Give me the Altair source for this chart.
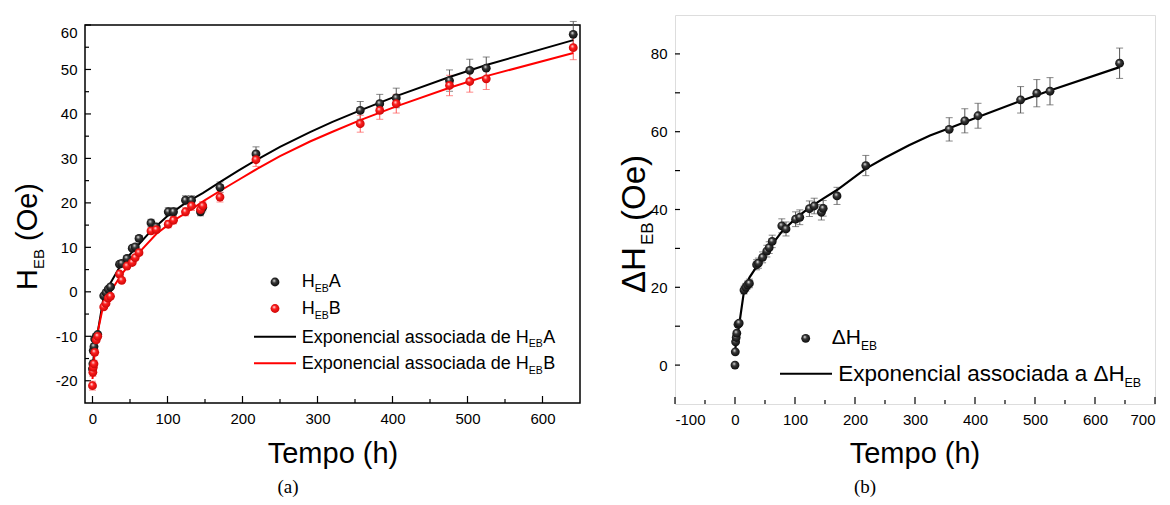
import altair as alt
import pandas as pd

# ---------------- data ----------------
time_h = [0, 0.5, 1, 2, 3, 5, 7, 15, 18, 21, 24, 36, 39, 46, 53, 57, 62, 78, 85,
          101, 108, 124, 132, 144, 147, 170, 218, 357, 383, 405, 476, 503, 525, 641]
heb_a = [-17.3, -16.2, -13.2, -12.3, -10.6, -10.0, -9.6, -0.9, -0.2, 0.6, 1.1, 6.2, 6.4,
         7.5, 9.8, 10.1, 12.0, 15.5, 14.6, 18.0, 18.0, 20.6, 20.6, 18.0, 19.0, 23.5,
         31.0, 40.8, 42.3, 43.6, 47.5, 49.8, 50.3, 57.9]
err_a = [0.9, 0.8, 0.7, 0.6, 0.5, 0.5, 0.5, 0.3, 0.3, 0.3, 0.3, 0.3, 0.3, 0.4, 0.5,
         0.5, 0.6, 0.8, 0.7, 0.9, 0.9, 1.0, 1.0, 0.9, 1.0, 1.2, 1.6, 2.0, 2.1, 2.2,
         2.4, 2.5, 2.5, 2.9]
heb_b = [-21.1, -18.1, -17.0, -16.2, -13.6, -10.8, -10.0, -3.4, -2.6, -1.4, -1.0, 4.0,
         2.6, 5.8, 6.6, 7.7, 8.8, 13.7, 14.0, 15.2, 16.1, 18.0, 19.3, 18.5, 19.3, 21.3,
         29.7, 37.8, 40.8, 42.3, 46.4, 47.3, 47.9, 54.9]
err_b = [1.0, 0.9, 0.8, 0.8, 0.7, 0.5, 0.5, 0.3, 0.3, 0.3, 0.3, 0.3, 0.3, 0.4, 0.4,
         0.5, 0.5, 0.7, 0.7, 0.8, 0.8, 0.9, 1.0, 0.9, 1.0, 1.1, 1.5, 1.9, 2.0, 2.1,
         2.3, 2.4, 2.4, 2.7]
delta_heb = [0.0, 3.4, 6.0, 7.1, 8.2, 10.5, 10.8, 19.3, 20.0, 20.6, 21.0, 25.8, 26.2,
             27.7, 29.3, 30.2, 31.8, 35.8, 35.0, 37.5, 38.0, 40.2, 40.9, 39.3, 40.3,
             43.5, 51.3, 60.6, 62.8, 64.1, 68.2, 69.9, 70.4, 77.6]
err_delta = [0.0, 0.2, 0.3, 0.4, 0.4, 0.5, 0.5, 1.0, 1.0, 1.0, 1.1, 1.3, 1.3, 1.4, 1.5,
             1.5, 1.6, 1.8, 1.8, 1.9, 1.9, 2.0, 2.0, 2.0, 2.0, 2.2, 2.6, 3.0, 3.1, 3.2,
             3.4, 3.5, 3.5, 3.9]

fit_a_t = [0, 2, 5, 7, 15, 24, 36, 46, 57, 78, 101, 124, 147, 172, 195, 220, 250, 290,
           320, 357, 405, 476, 525, 641]
fit_a_v = [-17.0, -14.0, -10.5, -9.0, -1.0, 2.0, 5.5, 7.6, 9.8, 13.7, 17.2, 20.0, 22.2,
           24.9, 27.3, 29.8, 32.6, 35.9, 38.2, 40.8, 44.0, 48.3, 51.0, 56.6]
fit_b_t = [0, 3, 7, 15, 24, 39, 48, 62, 85, 108, 127, 150, 172, 195, 220, 250, 290, 320,
           357, 405, 476, 525, 641]
fit_b_v = [-19.6, -13.5, -9.0, -2.5, 0.0, 4.0, 5.9, 8.8, 13.0, 16.0, 18.0, 20.6, 22.9,
           25.2, 27.7, 30.5, 33.8, 36.0, 38.6, 41.7, 45.9, 48.5, 53.7]
fit_d_t = [0, 7, 15, 24, 36, 46, 57, 78, 101, 124, 147, 170, 218, 250, 290, 325, 357,
           405, 476, 525, 641]
fit_d_v = [3.8, 10.4, 19.0, 22.5, 25.3, 27.6, 30.0, 34.3, 37.7, 40.5, 42.8, 45.0, 50.5,
           53.3, 56.5, 59.0, 60.9, 63.8, 67.9, 70.6, 76.6]

left_x_major = [0, 100, 200, 300, 400, 500, 600]
left_x_minor = [50, 150, 250, 350, 450, 550]
left_y_major = [-20, -10, 0, 10, 20, 30, 40, 50, 60]
left_y_minor = [-15, -5, 5, 15, 25, 35, 45, 55]
right_x_major = [-100, 0, 100, 200, 300, 400, 500, 600, 700]
right_x_minor = [-50, 50, 150, 250, 350, 450, 550, 650]
right_y_major = [0, 20, 40, 60, 80]
right_y_minor = [10, 30, 50, 70]

# ---------------- helpers ----------------
FONT = "Liberation Sans"
dummy = pd.DataFrame({"k": [0]})


def sphere(mid, dark):
    return alt.RadialGradient(
        gradient="radial",
        stops=[alt.GradientStop(offset=0, color="#ffffff"),
               alt.GradientStop(offset=0.35, color=mid),
               alt.GradientStop(offset=1, color=dark)],
        x1=0.38, y1=0.32, r1=0.0, x2=0.5, y2=0.5, r2=0.6)


BLACK_BALL = sphere("#3a3a3a", "#000000")
RED_BALL = sphere("#ff2020", "#c00000")


def make_axis(values, flush=True):
    return alt.Axis(values=values, title=None, ticks=False, domain=False, grid=False,
                    labelPadding=8, labelFontSize=15, labelFont=FONT, labelColor="black",
                    labelExpr="'' + datum.value", labelFlush=flush)


class Frame:
    def __init__(self, xs, ys, ax, ay):
        self.xs, self.ys, self.ax, self.ay = xs, ys, ax, ay

    def X(self, f):
        return alt.X(f, scale=self.xs, axis=self.ax)

    def Y(self, f):
        return alt.Y(f, scale=self.ys, axis=self.ay)


def label(text, x, y, size, angle=0, align="left", font=FONT):
    return alt.Chart(dummy).mark_text(
        text=text, fontSize=size, font=font, align=align, baseline="middle",
        angle=angle, color="black"
    ).encode(x=alt.value(x), y=alt.value(y))


def ticks(values, fr, orient, H, length):
    df = pd.DataFrame({"v": values})
    base = alt.Chart(df).mark_rule(color="black", strokeWidth=1.2)
    if orient == "x":
        return base.encode(x=fr.X("v:Q"), y=alt.value(H), y2=alt.value(H - length))
    return base.encode(y=fr.Y("v:Q"), x=alt.value(0), x2=alt.value(length))


def errbars(df, col, ecol, fr, color):
    base = alt.Chart(df).transform_calculate(
        lo=f"datum['{col}'] - datum['{ecol}']", hi=f"datum['{col}'] + datum['{ecol}']")
    rule = base.mark_rule(color=color, strokeWidth=1).encode(
        x=fr.X("t:Q"), y=fr.Y("lo:Q"), y2="hi:Q")
    cap_lo = base.mark_tick(orient="horizontal", size=7, thickness=1, color=color).encode(
        x=fr.X("t:Q"), y=fr.Y("lo:Q"))
    cap_hi = base.mark_tick(orient="horizontal", size=7, thickness=1, color=color).encode(
        x=fr.X("t:Q"), y=fr.Y("hi:Q"))
    return [rule, cap_lo, cap_hi]


def balls(df, col, fr, grad):
    return alt.Chart(df).mark_point(filled=True, shape="circle", size=78, fill=grad,
                                    strokeWidth=0, opacity=1).encode(
        x=fr.X("t:Q"), y=fr.Y(f"{col}:Q"))


def fitline(t, v, fr, color, width=2):
    d = pd.DataFrame({"t": t, "v": v})
    return alt.Chart(d).mark_line(color=color, strokeWidth=width).encode(
        x=fr.X("t:Q"), y=fr.Y("v:Q"), order="t:Q")


def legend_ball(x, y, grad):
    return alt.Chart(dummy).mark_point(filled=True, shape="circle", size=78, fill=grad,
                                       strokeWidth=0, opacity=1).encode(
        x=alt.value(x), y=alt.value(y))


def legend_line(x1, x2, y, color):
    return alt.Chart(dummy).mark_rule(color=color, strokeWidth=2).encode(
        x=alt.value(x1), x2=alt.value(x2), y=alt.value(y))


# ---------------- left panel ----------------
W1, H1, TOP1 = 495, 388, 10
fr1 = Frame(alt.Scale(domain=[-10, 650], nice=False, zero=False),
            alt.Scale(domain=[-25, 60], nice=False, zero=False, range=[H1, TOP1]),
            make_axis(left_x_major, flush=False), make_axis(left_y_major))
df1 = pd.DataFrame({"t": time_h, "A": heb_a, "eA": err_a, "B": heb_b, "eB": err_b})

left_layers = [
    alt.Chart(dummy).mark_rect(fillOpacity=0, stroke="black", strokeWidth=1.5).encode(
        x=alt.value(0), x2=alt.value(W1), y=alt.value(TOP1), y2=alt.value(H1)),
    ticks(left_x_major, fr1, "x", H1, 7),
    ticks(left_x_minor, fr1, "x", H1, 4),
    ticks(left_y_major, fr1, "y", H1, 6),
    ticks(left_y_minor, fr1, "y", H1, 4)]
left_layers += errbars(df1, "A", "eA", fr1, "#555555")
left_layers += errbars(df1, "B", "eB", fr1, "#ff5a5a")
left_layers += [fitline(fit_a_t, fit_a_v, fr1, "black"),
                fitline(fit_b_t, fit_b_v, fr1, "#ff0000"),
                balls(df1, "A", fr1, BLACK_BALL),
                balls(df1, "B", fr1, RED_BALL)]
left_layers += [
    legend_ball(190, 267, BLACK_BALL), legend_ball(190, 293.5, RED_BALL),
    label("H", 216.7, 267, 18), label("EB", 229.7, 273.5, 10.5), label("A", 243.7, 267, 18),
    label("H", 216.7, 294, 18), label("EB", 229.7, 300.5, 10.5), label("B", 243.7, 294, 18),
    legend_line(169, 211, 321.7, "black"), legend_line(169, 211, 348.3, "#ff0000"),
    label("Exponencial associada de H", 216.7, 322.5, 18), label("EB", 443.7, 329, 10.5),
    label("A", 458.2, 322.5, 18),
    label("Exponencial associada de H", 216.7, 349, 18), label("EB", 443.7, 355.5, 10.5),
    label("B", 458.2, 349, 18),
    label("Tempo (h)", 248, 439, 29, align="center"),
    label("H", -57, 275, 29, angle=270), label("EB", -46, 254, 15, angle=270),
    label("(Oe)", -57, 226, 29, angle=270),
    label("(a)", 203, 472, 19, align="center", font="Liberation Serif"),
]
left = alt.layer(*left_layers).properties(
    width=W1, height=H1, view=alt.ViewBackground(stroke="transparent"))

# ---------------- right panel ----------------
W2, H2 = 480, 389
fr2 = Frame(alt.Scale(domain=[-100, 700], nice=False, zero=False),
            alt.Scale(domain=[-10, 90], nice=False, zero=False),
            make_axis(right_x_major, flush=True), make_axis(right_y_major))
df2 = pd.DataFrame({"t": time_h, "D": delta_heb, "eD": err_delta})

right_layers = [ticks(right_x_major, fr2, "x", H2, 7),
                ticks(right_x_minor, fr2, "x", H2, 4),
                ticks(right_y_major, fr2, "y", H2, 5),
                ticks(right_y_minor, fr2, "y", H2, 5)]
right_layers += errbars(df2, "D", "eD", fr2, "#555555")
right_layers += [fitline(fit_d_t, fit_d_v, fr2, "black", 2.2),
                 balls(df2, "D", fr2, BLACK_BALL)]
right_layers += [
    legend_ball(130.7, 323.3, BLACK_BALL),
    label("ΔH", 156.7, 323, 21), label("EB", 186, 331, 12),
    legend_line(105, 157, 358.7, "black"),
    label("Exponencial associada a ΔH", 163.3, 359, 22.5), label("EB", 449.5, 367.5, 12.5),
    label("Tempo (h)", 240, 439, 29, align="center"),
    label("ΔH", -40, 278, 33, angle=270), label("EB", -27.5, 230, 17, angle=270),
    label("(Oe)", -40, 206, 33, angle=270),
    label("(b)", 190, 472, 19, align="center", font="Liberation Serif"),
]
right = alt.layer(*right_layers).properties(width=W2, height=H2)

chart = alt.hconcat(left, right, spacing=36).properties(
    padding={"left": 5, "top": 6, "right": 2, "bottom": 0}
).configure_view(stroke="black", strokeWidth=1.5).configure(background="white")

chart.save("out.html", embed_options={"renderer": "svg", "actions": False})
